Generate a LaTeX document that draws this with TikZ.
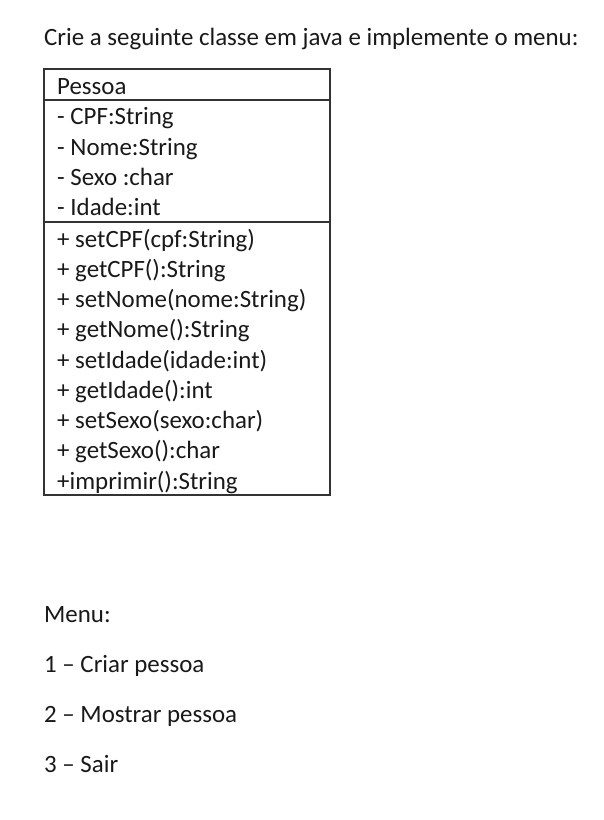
\documentclass[tikz,border=0pt]{standalone}
\usepackage{fontspec}
\setmainfont{Carlito}
\usepackage{tikz}

\tikzset{
  txt/.style={anchor=base west, inner sep=0pt, text=black!90, font=\fontsize{24.9}{30}\selectfont},
  umlline/.style={line width=1.1pt, draw=black!80}
}

\begin{document}
\begin{tikzpicture}[x=1pt,y=-1pt]
                \useasboundingbox [fill=white] (0,0) rectangle (603,820);
                \node [txt] (titulo) at (44,45) {Crie a seguinte classe em java e implemente o menu:};
                \draw [umlline] (44,69) rectangle (330,495);
                \draw [umlline] (44,100)--(330,100);
                \draw [umlline] (44,222)--(330,222);
                \node [txt] (classe) at (57,94) {Pessoa};
                \node [txt] (cpf) at (57,124.5) {- CPF:String};
                \node [txt] (nome) at (57,155) {- Nome:String};
                \node [txt] (sexo) at (57,185) {- Sexo :char};
                \node [txt] (idade) at (57,215) {- Idade:int};
                \node [txt] (setcpf) at (57,247) {+ setCPF(cpf:String)};
                \node [txt] (getcpf) at (57,277) {+ getCPF():String};
                \node [txt] (setnome) at (57,307) {+ setNome(nome:String)};
                \node [txt] (getnome) at (57,337.5) {+ getNome():String};
                \node [txt] (setidade) at (57,368) {+ setIdade(idade:int)};
                \node [txt] (getidade) at (57,398) {+ getIdade():int};
                \node [txt] (setsexo) at (57,428) {+ setSexo(sexo:char)};
                \node [txt] (getsexo) at (57,458.5) {+ getSexo():char};
                \node [txt] (imprimir) at (57,489) {+imprimir():String};
                \node [txt] (menu) at (44,622) {Menu:};
                \node [txt] (op1) at (44,672) {1 -- Criar pessoa};
                \node [txt] (op2) at (44,722) {2 -- Mostrar pessoa};
                \node [txt] (op3) at (44,772) {3 -- Sair};
            \end{tikzpicture}
\end{document}
